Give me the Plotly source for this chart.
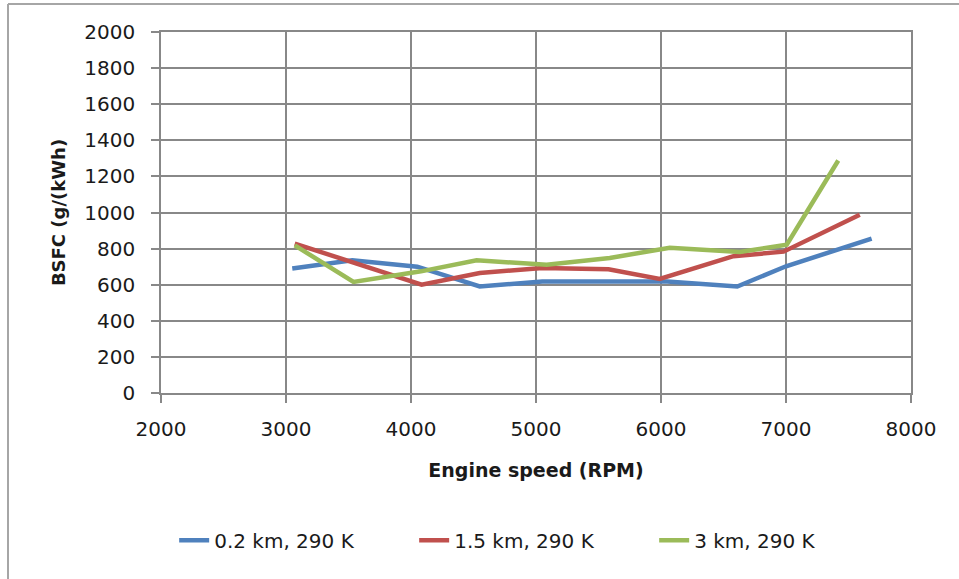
import plotly.graph_objects as go

# Data
rpm_02 = [3050, 3530, 4050, 4550, 5050, 5550, 6050, 6610, 7000, 7685]
bsfc_02 = [690, 735, 700, 590, 618, 618, 618, 590, 702, 855]

rpm_15 = [3070, 4085, 4550, 5050, 5580, 5990, 6580, 6980, 7590]
bsfc_15 = [828, 600, 665, 693, 685, 632, 758, 783, 988]

rpm_3 = [3070, 3540, 4080, 4525, 5085, 5590, 6070, 6630, 7006, 7418]
bsfc_3 = [818, 615, 674, 735, 711, 748, 805, 781, 822, 1288]

names = ["0.2 km, 290 K", "1.5 km, 290 K", "3 km, 290 K"]
colors = ["#4F81BD", "#C0504D", "#9BBB59"]

x_ticks = [2000, 3000, 4000, 5000, 6000, 7000, 8000]
y_ticks = [0, 200, 400, 600, 800, 1000, 1200, 1400, 1600, 1800, 2000]

FONT = "DejaVu Sans"
GRID = "#888888"

fig = go.Figure()
for xs, ys, nm, c in zip([rpm_02, rpm_15, rpm_3], [bsfc_02, bsfc_15, bsfc_3], names, colors):
    fig.add_trace(go.Scatter(x=xs, y=ys, mode="lines", name=nm,
                             line=dict(color=c, width=4.5)))

fig.update_layout(
    width=959, height=579,
    margin=dict(l=161, r=48, t=32, b=186),
    paper_bgcolor="white", plot_bgcolor="white",
    font=dict(family=FONT, size=20, color="#1a1a1a"),
    showlegend=True,
    legend=dict(orientation="h", xref="container", yref="container",
                x=0.557, xanchor="center", y=0.067, yanchor="middle",
                font=dict(family=FONT, size=20, color="#1a1a1a"),
                entrywidth=195, traceorder="normal"),
    xaxis=dict(range=[2000, 8000], tickvals=x_ticks, showgrid=True,
               gridcolor=GRID, gridwidth=1.5, showline=True, linecolor=GRID,
               linewidth=1.5, mirror=True, ticks="outside", ticklen=8,
               tickcolor=GRID, tickwidth=1.5, zeroline=False,
               ticklabelstandoff=9,
               tickfont=dict(family=FONT, size=20),
               title=dict(text="<b>Engine speed (RPM)</b>",
                          font=dict(family=FONT, size=19), standoff=24)),
    yaxis=dict(range=[0, 2000], tickvals=y_ticks, showgrid=True,
               gridcolor=GRID, gridwidth=1.5, showline=True, linecolor=GRID,
               linewidth=1.5, mirror=True, ticks="outside", ticklen=8,
               tickcolor=GRID, tickwidth=1.5, zeroline=False,
               ticklabelstandoff=12,
               tickfont=dict(family=FONT, size=20),
               title=dict(text="<b>BSFC (g/(kWh)</b>",
                          font=dict(family=FONT, size=18), standoff=14)),
)

# Outer chart frame (left and top edges visible in the reference)
fig.add_shape(type="line", xref="paper", yref="paper",
              x0=(8 - 161) / 750, x1=(8 - 161) / 750,
              y0=(393 - 600) / 361, y1=(393 - 4) / 361,
              line=dict(color="#a6a6a6", width=2))
fig.add_shape(type="line", xref="paper", yref="paper",
              x0=(8 - 161) / 750, x1=(980 - 161) / 750,
              y0=(393 - 4) / 361, y1=(393 - 4) / 361,
              line=dict(color="#a6a6a6", width=2))

fig.write_html("out.html",
               config={"displayModeBar": False},
               post_script="document.body.style.margin='0px';"
                           "document.body.style.overflow='hidden';")
